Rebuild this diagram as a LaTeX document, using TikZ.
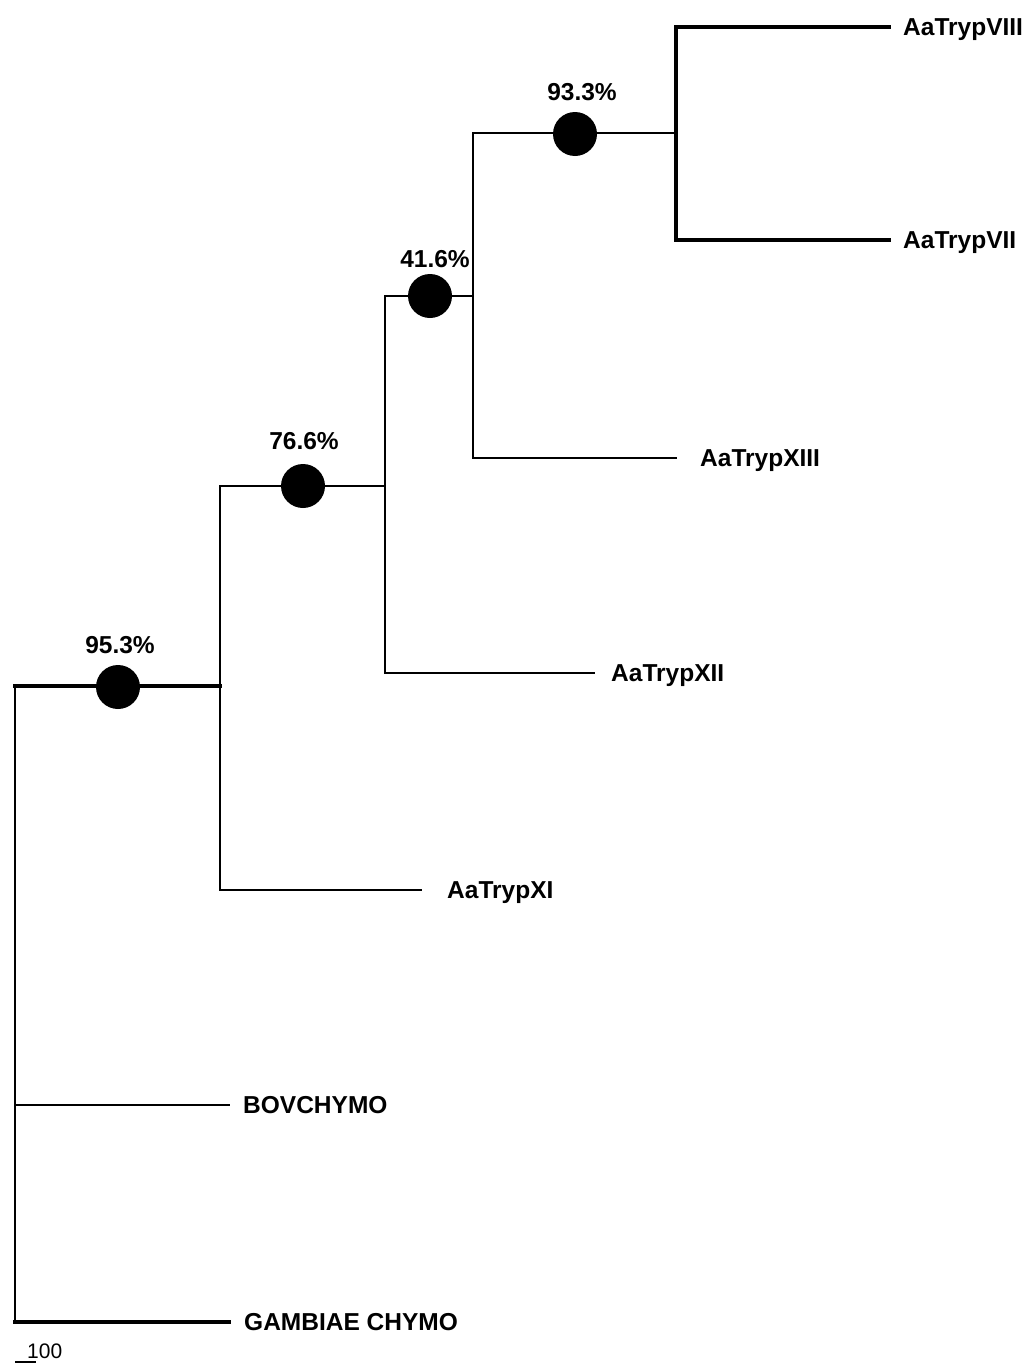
\documentclass[tikz,border=0pt]{standalone}
\usepackage{fontspec}
\setmainfont{Liberation Sans}
\begin{document}
\begin{tikzpicture}[x=1pt,y=-1pt,
  br/.style={line width=2.2pt, line cap=rect},
  brthick/.style={line width=3.2pt, line cap=rect},
  taxon/.style={anchor=base west, inner sep=0pt, font=\fontsize{24.5}{28}\selectfont\bfseries},
  pct/.style={anchor=base, inner sep=0pt, font=\fontsize{24.5}{28}\selectfont\bfseries},
  dot/.style={circle, fill=black, minimum size=44pt, inner sep=0pt}]
\useasboundingbox (0,0) rectangle (1032,1365);

% internal nodes: where each clade's stem meets its vertical bar
\coordinate (r1) at (15,686);
\coordinate (r2) at (15,1105);
\coordinate (r3) at (15,1322);
\coordinate (a)  at (220,686);
\coordinate (a1) at (220,486);
\coordinate (a2) at (220,890);
\coordinate (b)  at (385,486);
\coordinate (b1) at (385,296);
\coordinate (b2) at (385,673);
\coordinate (c)  at (473,296);
\coordinate (c1) at (473,133);
\coordinate (c2) at (473,458);
\coordinate (d)  at (676,133);
\coordinate (d1) at (676,27);
\coordinate (d2) at (676,240);

% tips of terminal branches
\coordinate (tVIII) at (889,27);
\coordinate (tVII)  at (889,240);
\coordinate (tXIII) at (676,458);
\coordinate (tXII)  at (594,673);
\coordinate (tXI)   at (421,890);
\coordinate (tBOV)  at (229,1105);
\coordinate (tGAM)  at (229,1322);

% taxon labels
\node[taxon] (VIII) at (903,35.5)   {AaTrypVIII};
\node[taxon] (VII)  at (903,248.5)  {AaTrypVII};
\node[taxon] (XIII) at (700,466.5)  {AaTrypXIII};
\node[taxon] (XII)  at (611,681.5)  {AaTrypXII};
\node[taxon] (XI)   at (447,898.5)  {AaTrypXI};
\node[taxon] (BOV)  at (243,1113.5) {BOVCHYMO};
\node[taxon] (GAM)  at (244,1330.5) {GAMBIAE CHYMO};

% vertical bars
\draw[br] (r1) -- (r3);
\draw[br] (a1) -- (a2);
\draw[br] (b1) -- (b2);
\draw[br] (c1) -- (c2);
\draw[brthick] (d1) -- (d2);

% internal branches
\draw[brthick] (r1) -- (a);
\draw[br] (a1) -- (b);
\draw[br] (b1) -- (c);
\draw[br] (c1) -- (d);

% terminal branches
\draw[brthick] (d1) -- (tVIII);
\draw[brthick] (d2) -- (tVII);
\draw[br] (c2) -- (tXIII);
\draw[br] (b2) -- (tXII);
\draw[br, line width=2.6pt] (a2) -- (tXI);
\draw[br] (r2) -- (tBOV);
\draw[brthick] (r3) -- (tGAM);

% support markers with bootstrap values
\node[dot] (s953) at (118,687) {};
\node[pct] (p953) at (120,653) {95.3\%};
\node[dot] (s766) at (303,486) {};
\node[pct] (p766) at (304,449) {76.6\%};
\node[dot] (s416) at (430,296) {};
\node[pct] (p416) at (435,267) {41.6\%};
\node[dot] (s933) at (575,134) {};
\node[pct] (p933) at (582,100) {93.3\%};

% scale bar
\coordinate (sb1) at (15,1362);
\coordinate (sb2) at (36,1362);
\draw[line width=2pt] (sb1) -- (sb2);
\node[anchor=base west, inner sep=0pt, font=\fontsize{21}{24}\selectfont] (sbl) at (27,1358) {100};
\end{tikzpicture}
\end{document}
